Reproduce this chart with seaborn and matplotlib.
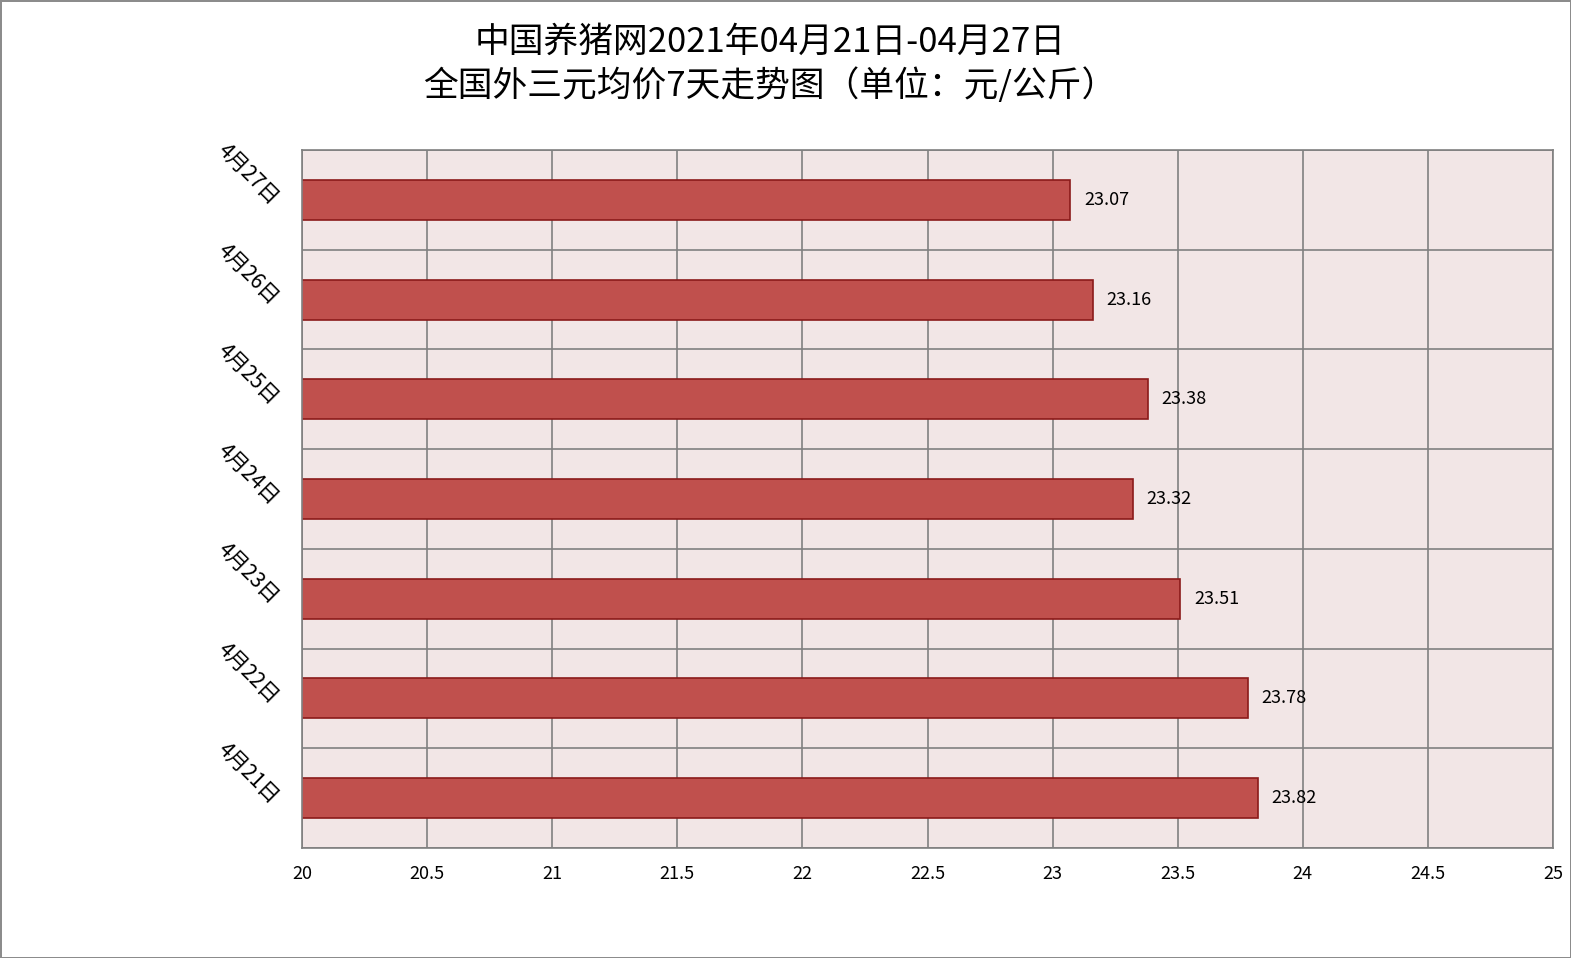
import numpy as np, pandas as pd
import matplotlib
matplotlib.use('Agg')
import matplotlib.pyplot as plt
import seaborn as sns
from matplotlib.ticker import FixedLocator

dates = ['4月27日', '4月26日', '4月25日', '4月24日', '4月23日', '4月22日', '4月21日']
prices = [23.07, 23.16, 23.38, 23.32, 23.51, 23.78, 23.82]
xticks = [20, 20.5, 21, 21.5, 22, 22.5, 23, 23.5, 24, 24.5, 25]
xtick_labels = ['20', '20.5', '21', '21.5', '22', '22.5', '23', '23.5', '24', '24.5', '25']

plt.rcParams['font.family'] = ['Noto Sans CJK SC', 'DejaVu Sans']

df = pd.DataFrame({'date': dates, 'price': prices})

fig = plt.figure(figsize=(15.71, 9.58), dpi=100)
fig.patch.set_edgecolor('#8c8c8c')
fig.patch.set_linewidth(2)
ax = fig.add_axes([302/1571, 1 - 848/958, (1553-302)/1571, (848-150)/958])
ax.set_facecolor('#F2E6E6')

sns.barplot(data=df, x='price', y='date', orient='h', color='#C0504D',
            edgecolor='#8B1A1A', linewidth=1.2, width=0.4, saturation=1, ax=ax)

ax.set_xlim(20, 25)
ax.set_ylim(len(dates) - 0.5, -0.5)
ax.set_xticks(xticks)
ax.set_xticklabels(xtick_labels, fontsize=13)
ax.yaxis.set_minor_locator(FixedLocator(np.arange(-0.5, len(dates), 1)))
ax.grid(True, axis='x', color='#808080', linewidth=1.2)
ax.grid(True, axis='y', which='minor', color='#808080', linewidth=1.2)
ax.set_axisbelow(True)
ax.tick_params(length=0, which='both')
ax.tick_params(axis='x', pad=12)
ax.tick_params(axis='y', pad=18)
for lab in ax.get_yticklabels():
    lab.set_rotation(-45)
    lab.set_fontsize(15)
    lab.set_rotation_mode('anchor')
for s in ax.spines.values():
    s.set_color('#808080')
    s.set_linewidth(1.2)
ax.set_xlabel('')
ax.set_ylabel('')

for i, v in enumerate(prices):
    ax.text(v + 0.055, i, f'{v:.2f}', va='center', ha='left', fontsize=13)

fig.text(0.49, 1 - 42/958, '中国养猪网2021年04月21日-04月27日', ha='center', va='center',
         fontsize=25, fontweight='medium')
fig.text(0.49, 1 - 86/958, '全国外三元均价7天走势图（单位：元/公斤）', ha='center', va='center',
         fontsize=25, fontweight='medium')

fig.savefig('out.png', dpi=100)
